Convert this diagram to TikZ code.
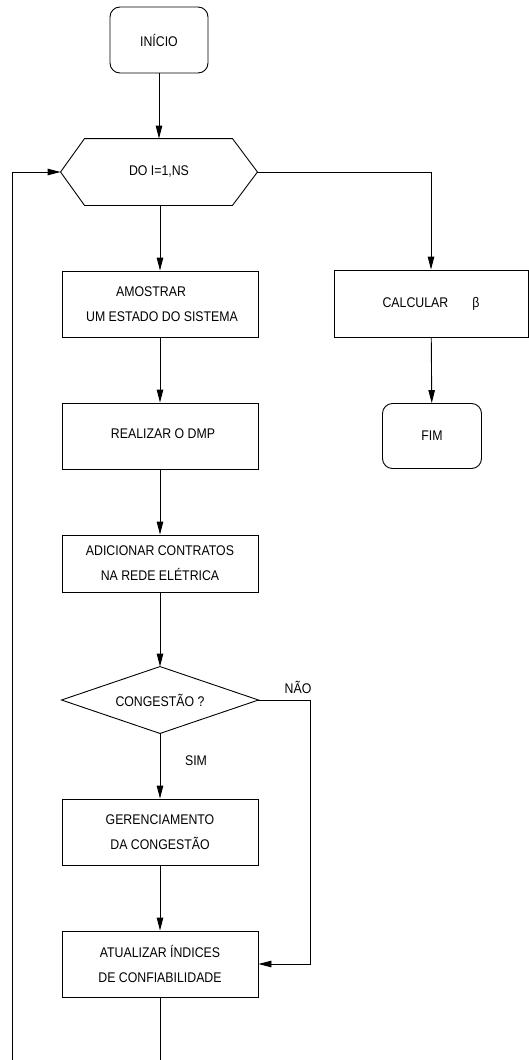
\documentclass[tikz,border=0pt]{standalone}
\usepackage{fontspec}
\setmainfont{Liberation Sans}[FakeStretch=0.88]
\usetikzlibrary{arrows.meta}
\begin{document}
\begin{tikzpicture}[x=1pt,y=-1pt,
  line width=0.9pt,
  txt/.style={font=\fontsize{14}{25}\selectfont, align=center, inner sep=0pt},
  proc/.style={txt, draw, minimum width=196pt, minimum height=66pt},
  term/.style={txt, draw, rounded corners=10pt, minimum width=98pt, minimum height=66pt},
  ghost/.style={txt, minimum width=196pt, minimum height=66pt},
  arr/.style={-{Triangle[length=13pt,width=6.5pt]}},
  lbl/.style={font=\fontsize{14}{16}\selectfont, inner sep=0pt}]
\useasboundingbox (0,0) rectangle (528,1060);

% terminals
\node[term] (start) at (159,40) {INÍCIO};
\node[term, minimum width=99pt, minimum height=65pt] (fim) at (432,436) {FIM};

% loop header (hexagon)
\node[ghost] (loop) at (159,172) {DO I=1,NS};
\draw (loop.west) -- ([xshift=24pt]loop.north west) -- ([xshift=-25pt]loop.north east)
  -- (loop.east) -- ([xshift=-25pt]loop.south east) -- ([xshift=24pt]loop.south west) -- cycle;

% process boxes
\node[proc] (amostra) at (160,304) {AMOSTRAR\rule{18pt}{0pt}\\\rule{4pt}{0pt}UM ESTADO DO SISTEMA};
\node[proc] (dmp) at (160,436) {\raisebox{4pt}{\rule{6pt}{0pt}REALIZAR O DMP}};
\node[proc, minimum height=57pt] (contr) at (160,563.5) {ADICIONAR CONTRATOS\\NA REDE ELÉTRICA};
\node[proc, minimum width=194pt, minimum height=67pt] (calc) at (431,303.5) {CALCULAR\hspace{24pt}β};

% decision (diamond)
\node[ghost] (cong) at (160,700) {CONGESTÃO ?};
\draw (cong.west) -- (cong.north) -- (cong.east) -- (cong.south) -- cycle;

\node[proc] (ger) at (160,832) {GERENCIAMENTO\\DA CONGESTÃO};
\node[proc] (atual) at (160,964) {ATUALIZAR ÍNDICES\\DE CONFIABILIDADE};

% connectors
\draw[arr] (start) -- (loop.north);
\draw[arr] (loop.south -| amostra.north) -- (amostra.north);
\draw[arr] (amostra) -- (dmp);
\draw[arr] (dmp) -- (contr);
\draw[arr] (contr) -- (cong.north);
\draw[arr] (cong.south) -- (ger);
\draw[arr] (ger) -- (atual);
\draw[arr] (loop.east) -| (calc.north);
\draw[arr] (calc) -- (fim);

\coordinate (nturn) at (310,700);
\draw[arr] (cong.east) -- (nturn) |- (atual.east);

\coordinate (back) at (12,1080);
\draw[arr] (atual.south) |- (back) |- (loop.west);

% branch labels
\node[lbl] (nao) at (298,687) {NÃO};
\node[lbl] (sim) at (196,761) {SIM};
\end{tikzpicture}
\end{document}
